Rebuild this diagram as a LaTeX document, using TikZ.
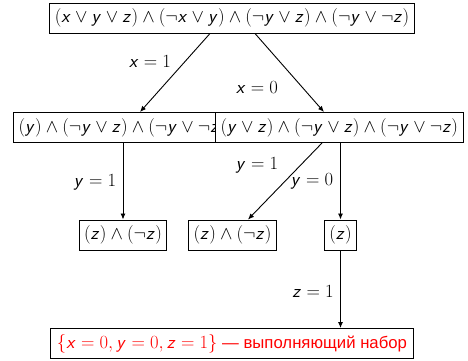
\RequirePackage{fix-cm}
\documentclass[tikz,border=0pt]{standalone}
\usepackage{fontspec}
\setmainfont[Scale=0.9]{Liberation Sans}
\usetikzlibrary{arrows.meta}
% рубленые буквы и цифры в формулах
\DeclareSymbolFont{sfletters}{OT1}{cmss}{m}{sl}
\DeclareSymbolFont{sfdigits}{OT1}{cmss}{m}{n}
\DeclareMathSymbol{x}{\mathalpha}{sfletters}{`x}
\DeclareMathSymbol{y}{\mathalpha}{sfletters}{`y}
\DeclareMathSymbol{z}{\mathalpha}{sfletters}{`z}
\DeclareMathSymbol{0}{\mathord}{sfdigits}{`0}
\DeclareMathSymbol{1}{\mathord}{sfdigits}{`1}
\begin{document}
\begin{tikzpicture}[x=1pt,y=-1pt,font=\fontsize{18.6}{22}\selectfont,
 box/.style={draw,line width=1pt,fill=white,inner xsep=5pt,minimum height=30pt},
 edge/.style={-{Latex[length=6pt,width=5pt]},line width=0.9pt}]
\useasboundingbox (0,0) rectangle (468,360);
% корень
\node[box] (top) at (232,18) {$(x\vee y\vee z)\wedge(\neg x\vee y)\wedge(\neg y\vee z)\wedge(\neg y\vee\neg z)$};
% второй уровень: правый блок закрывает левый
\node[box,anchor=west] (left) at (13,127.5) {$(y)\wedge(\neg y\vee z)\wedge(\neg y\vee\neg z)$};
\node[box,anchor=west] (right) at (215,127.5) {$(y\vee z)\wedge(\neg y\vee z)\wedge(\neg y\vee\neg z)$};
% третий уровень
\node[box] (ll) at (123,235) {$(z)\wedge(\neg z)$};
\node[box] (rl) at (232.5,235) {$(z)\wedge(\neg z)$};
\node[box] (rr) at (340.5,235) {$(z)$};
% ответ
\node[box,text=red,inner xsep=6.5pt] (res) at (232,343.5) {$\{x=0,y=0,z=1\}$ — выполняющий набор};
% ветви
\draw[edge] ([xshift=-22pt]top.south) -- ([xshift=127pt]left.north west);
\draw[edge] ([xshift=23pt]top.south) -- ([xshift=109pt]right.north west);
\draw[edge] (left.south -| ll.north) -- (ll.north);
\draw[edge] ([xshift=107pt]right.south west) -- ([xshift=15.5pt]rl.north);
\draw[edge] (right.south -| rr.north) -- (rr.north);
\draw[edge] (rr.south) -- (res.north -| rr.south);
% подписи
\node (x1) at (150,61) {$x=1$}; \node (x0) at (257,87) {$x=0$};
\node (y1l) at (95,182) {$y=1$}; \node (y1r) at (257,165) {$y=1$};
\node (y0) at (312,181) {$y=0$}; \node (z1) at (313,291) {$z=1$};
\end{tikzpicture}
\end{document}
